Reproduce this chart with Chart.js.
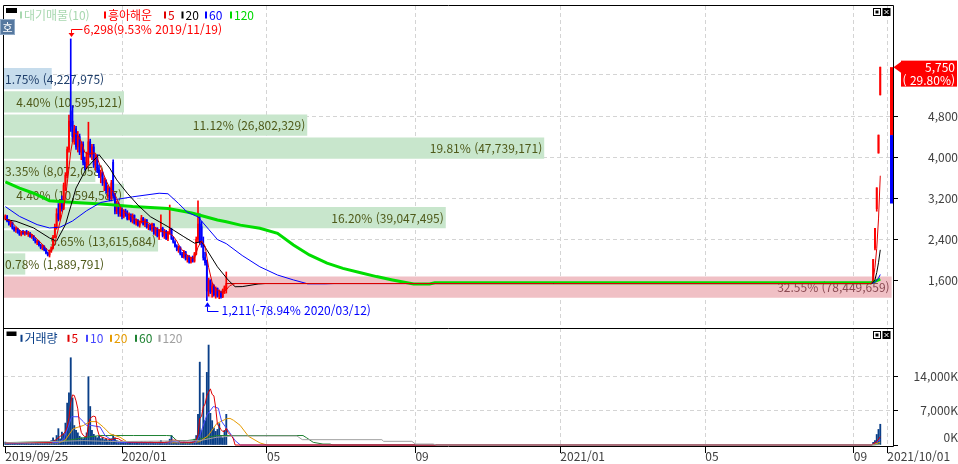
<!DOCTYPE html>
<html lang="ko">
<head>
<meta charset="utf-8">
<title>흥아해운</title>
<script src="https://cdn.jsdelivr.net/npm/chart.js@4.4.1/dist/chart.umd.min.js"></script>
<style>
  html, body { margin: 0; padding: 0; background: #fff; }
  #wrap { position: relative; width: 958px; height: 464px; overflow: hidden; background: #fff; }
  canvas { position: absolute; left: 0; }
  #priceChart { top: 0; }
  #volChart { top: 328px; }
</style>
</head>
<body>
<div id="wrap">
  <canvas id="priceChart" width="958" height="329"></canvas>
  <canvas id="volChart" width="958" height="136"></canvas>
</div>
<script>
// x = trading day index, 0 = 2019/09/25
const xTickIdx = [0, 66, 148, 232, 314, 396, 480, 499];
const xTickLabels = ['2019/09/25', '2020/01', '05', '09', '2021/01', '05', '09', '2021/10/01'];
const priceTicks = [1600, 2400, 3200, 4000, 4800, 5600];
const volTicks = [0, 7000, 14000];

// daily candles up to the trading halt (index 0..125)
const opens = [
  2800, 2850, 2760, 2700, 2730, 2620, 2590, 2610, 2540, 2500,
  2540, 2510, 2550, 2500, 2520, 2460, 2470, 2400, 2350, 2360,
  2290, 2240, 2270, 2200, 2140, 2100, 2180, 2240, 2450, 2650,
  2900, 2800, 3100, 3000, 3450, 3650, 4150, 4900, 4700, 4300,
  4550, 4200, 4400, 4100, 4250, 3900, 3800, 4050, 4300, 4050,
  4200, 3850, 4000, 3750, 3650, 3700, 3500, 3550, 3350, 3400,
  3200, 3900, 3250, 2950, 3100, 2900, 3000, 2850, 2950, 2900,
  2800, 2880, 2760, 2870, 2720, 2780, 2680, 2740, 2820, 2700,
  2780, 2640, 2680, 2600, 2700, 2520, 2620, 2470, 2580, 2620,
  2480, 2560, 2420, 2540, 2600, 2420, 2350, 2270, 2200, 2250,
  2120, 2070, 2160, 2020, 2080, 1960, 2040, 1980, 2120, 2400,
  2700, 2650, 2300, 2050, 1980, 1400, 1600, 1380, 1500, 1330,
  1450, 1300, 1380, 1290, 1420, 1420
];
const highs = [
  2880, 2870, 2790, 2760, 2740, 2650, 2640, 2620, 2580, 2560,
  2580, 2560, 2580, 2560, 2540, 2500, 2480, 2420, 2390, 2370,
  2310, 2300, 2280, 2230, 2160, 2200, 2260, 2480, 2700, 3000,
  3100, 3150, 3250, 3500, 3700, 4200, 4820, 6298, 5000, 4620,
  4600, 4500, 4450, 4300, 4300, 4000, 4100, 4680, 4350, 4250,
  4250, 4050, 4050, 3850, 3750, 3720, 3600, 3560, 3450, 3420,
  3550, 3950, 3300, 3150, 3130, 3050, 3020, 2980, 2990, 2960,
  2920, 2900, 2900, 2880, 2800, 2790, 2760, 2870, 2830, 2800,
  2790, 2700, 2690, 2720, 2710, 2640, 2630, 2600, 2880, 2640,
  2600, 2580, 2560, 3070, 2620, 2450, 2380, 2300, 2280, 2260,
  2150, 2190, 2170, 2100, 2090, 2060, 2080, 2150, 2450, 3150,
  2900, 2750, 2450, 2150, 2000, 1650, 1620, 1560, 1520, 1480,
  1460, 1420, 1400, 1440, 1500, 1770
];
const lows = [
  2780, 2740, 2680, 2650, 2600, 2560, 2540, 2520, 2480, 2470,
  2500, 2480, 2500, 2460, 2440, 2420, 2380, 2330, 2300, 2270,
  2220, 2200, 2180, 2120, 2080, 2060, 2150, 2220, 2430, 2600,
  2760, 2780, 2950, 2980, 3350, 3600, 4100, 4500, 4300, 4250,
  4150, 4100, 4050, 3950, 3850, 3750, 3780, 3850, 4000, 3950,
  3800, 3750, 3700, 3600, 3500, 3450, 3350, 3300, 3200, 3150,
  3150, 3200, 2900, 2900, 2850, 2850, 2800, 2820, 2850, 2780,
  2780, 2740, 2720, 2700, 2680, 2660, 2640, 2720, 2680, 2650,
  2620, 2590, 2580, 2560, 2500, 2480, 2450, 2400, 2550, 2450,
  2420, 2400, 2380, 2500, 2400, 2330, 2250, 2180, 2150, 2100,
  2050, 2040, 2000, 1960, 1940, 1940, 1960, 1960, 2100, 2350,
  2300, 2250, 2000, 1900, 1211, 1300, 1350, 1280, 1300, 1260,
  1280, 1250, 1260, 1270, 1350, 1360
];
const closes = [
  2860, 2760, 2700, 2740, 2620, 2580, 2620, 2540, 2500, 2540,
  2520, 2550, 2510, 2530, 2460, 2480, 2400, 2350, 2370, 2290,
  2240, 2280, 2200, 2140, 2100, 2180, 2240, 2450, 2650, 2900,
  2800, 3100, 3000, 3450, 3650, 4150, 4700, 4600, 4400, 4550,
  4200, 4400, 4100, 4250, 3900, 3800, 4050, 4300, 4050, 4200,
  3850, 4000, 3750, 3650, 3700, 3500, 3550, 3350, 3400, 3200,
  3500, 3250, 2950, 3100, 2900, 3000, 2850, 2950, 2900, 2800,
  2880, 2760, 2870, 2720, 2780, 2680, 2740, 2820, 2700, 2780,
  2640, 2680, 2600, 2700, 2520, 2620, 2470, 2580, 2620, 2480,
  2560, 2420, 2540, 2600, 2420, 2350, 2270, 2200, 2250, 2120,
  2070, 2160, 2020, 2080, 1960, 2040, 1980, 2120, 2400, 2700,
  2350, 2300, 2050, 1950, 1400, 1600, 1380, 1500, 1330, 1450,
  1300, 1380, 1290, 1420, 1480, 1545
];
// volume in thousands of shares
const volumes = [
  600, 500, 450, 400, 500, 350, 400, 300, 450, 350,
  400, 300, 350, 300, 250, 350, 300, 400, 350, 300,
  450, 350, 400, 500, 600, 700, 900, 1500, 1000, 1950,
  3360, 1260, 2650, 2300, 4500, 8600, 10700, 17900, 9650, 4000,
  3000, 2500, 1800, 1500, 1300, 1500, 2500, 14000, 7900, 3000,
  2200, 1800, 1500, 1800, 1300, 1500, 1100, 1200, 900, 1000,
  1300, 2100, 1500, 900, 800, 700, 600, 700, 650, 500,
  600, 550, 700, 500, 600, 450, 550, 700, 500, 600,
  450, 500, 650, 600, 500, 550, 450, 600, 900, 500,
  450, 600, 500, 1200, 1950, 700, 600, 500, 650, 500,
  450, 600, 500, 550, 450, 600, 700, 1200, 1950, 6300,
  17000, 3000, 10700, 5000, 14900, 20500, 6500, 5000, 3500, 2800,
  3200, 4400, 2000, 1500, 3000, 6300
];

// halted: flat price between these two days
const haltDays = [125, 490];
const haltPrice = 1545;

// after trading resumed (2021/09)
const resumeIdx = [491, 492, 493, 494, 495];
const resumeOpen = [1570, 2230, 3000, 4080, 5210];
const resumeHigh = [2015, 2620, 3405, 4430, 5750];
const resumeLow = [1545, 2200, 2950, 4080, 5210];
const resumeClose = [2015, 2620, 3405, 4430, 5750];
const resumeVol = [550, 900, 2160, 3200, 4260];

const peakDate = '2019/11/19';
const troughDate = '2020/03/12';
const limitUp = 5750, limitDown = 3100;

// price moving averages [day, price]
const ma5 = [[0,2800],[3,2760],[6,2650],[9,2560],[12,2525],[15,2505],[18,2410],[21,2305],[24,2190],[26,2170],[28,2320],[30,2610],[32,2890],[34,3200],[36,3790],[37,4110],[38,4300],[39,4480],[41,4430],[43,4300],[45,4090],[47,4060],[49,4080],[51,4080],[53,3890],[55,3720],[57,3550],[59,3400],[61,3340],[63,3200],[65,3040],[67,2960],[69,2900],[71,2860],[73,2805],[75,2760],[77,2750],[79,2745],[81,2725],[83,2680],[85,2625],[87,2580],[89,2555],[91,2530],[93,2520],[95,2465],[97,2370],[99,2240],[101,2160],[103,2090],[105,2050],[107,2035],[109,2250],[111,2375],[113,2270],[115,1860],[117,1565],[119,1450],[121,1390],[123,1370],[125,1425],[127,1505],[129,1530],[130,1545],[490,1545],[491,1640],[492,1860],[493,2230],[494,2800],[495,3640]];
const ma20 = [[0,2790],[6,2755],[16,2625],[25,2430],[29,2370],[34,2690],[40,3400],[46,3790],[53,4050],[59,3790],[63,3560],[69,3300],[75,3070],[82,2845],[92,2650],[101,2455],[107,2330],[111,2360],[114,2200],[120,1870],[126,1615],[130,1483],[134,1485],[143,1536],[147,1545],[490,1545],[491,1570],[492,1620],[493,1760],[494,1950],[495,2200]];
const ma60 = [[0,3040],[8,2850],[18,2690],[25,2625],[31,2640],[38,2760],[46,2960],[54,3120],[63,3180],[72,3230],[87,3300],[92,3290],[98,3100],[103,2930],[109,2840],[115,2600],[120,2400],[125,2320],[134,2090],[144,1870],[154,1710],[163,1615],[171,1540],[181,1540],[186,1545],[490,1545],[492,1570],[494,1650],[495,1720]];
const ma120 = [[0,3520],[8,3400],[16,3300],[25,3155],[35,3130],[54,3090],[72,3040],[92,3005],[102,2940],[106,2910],[120,2780],[125,2745],[133,2680],[144,2620],[154,2520],[163,2295],[172,2100],[182,1940],[191,1840],[201,1755],[210,1680],[219,1615],[231,1536],[240,1536],[243,1560],[490,1560],[495,1630]];

// volume moving averages [day, thousands]
const vma5 = [[0,420],[26,550],[28,900],[30,1500],[32,2050],[33,2300],[34,2810],[35,3860],[36,5650],[37,8790],[38,10270],[39,10170],[40,9050],[41,7410],[42,4190],[43,2560],[44,2020],[45,1720],[46,1720],[47,4160],[48,5440],[49,5780],[50,5920],[51,5780],[52,3280],[53,2060],[54,1720],[56,1450],[58,1200],[60,1100],[62,1400],[64,1300],[66,800],[70,600],[90,550],[93,700],[94,1000],[96,1000],[98,900],[99,600],[106,550],[107,690],[108,980],[109,2160],[110,5430],[111,5890],[112,7790],[113,8400],[114,10120],[115,10820],[116,11520],[117,10380],[118,10080],[119,7660],[120,4200],[121,3780],[122,3180],[123,2780],[124,2820],[125,3440],[126,2560],[127,2160],[128,1860],[129,1260],[130,0],[490,0],[493,700],[495,1700]];
const vma10 = [[0,350],[30,500],[33,1200],[35.6,3700],[37.5,5800],[41.3,5800],[44.1,4800],[46,4000],[48.9,4000],[53.6,3700],[56.4,1950],[59.2,1260],[63,600],[70,500],[92,450],[95,700],[100,550],[108,600],[110,1950],[114,6150],[117.7,7900],[120.5,7550],[122.4,4800],[127,2500],[130,900],[133,0],[490,0],[495,1100]];
const vma20 = [[0,400],[30,450],[33.7,900],[38.4,3360],[44.1,4000],[47.9,4800],[51.7,4800],[55.4,3700],[59.2,2300],[62,1950],[64.9,1600],[68.7,700],[75,500],[105,450],[110,700],[114.8,1950],[119.6,4400],[125.2,5400],[127.1,5460],[129,5100],[132.8,4050],[137.5,1800],[144.1,420],[148,0],[490,0],[495,550]];
const vma60 = [[0,500],[30.9,700],[40.4,1260],[46,1600],[53.6,1950],[72.4,1950],[91.3,1950],[94.1,1900],[97,900],[102.6,900],[110.1,1260],[119.6,1950],[168.4,1950],[170.5,1470],[174.2,550],[179.7,200],[183.7,200],[185.4,0],[490,0],[495,180]];
const vma120 = [[0,450],[44,900],[63,700],[110,900],[119.6,1600],[129,1850],[165,1850],[168,1100],[213,1100],[214,760],[230,760],[232,200],[242,200],[244,0],[490,0],[495,90]];

// 대기매물 bands, bottom to top
const bandMid = [1475, 1925, 2375, 2825, 3275, 3725, 4175, 4625, 5075, 5525];
const bandHalf = 225;
const bandPct = [32.55, 0.78, 5.65, 16.20, 4.40, 3.35, 19.81, 11.12, 4.40, 1.75];
const bandVol = [78449659, 1889791, 13615684, 39047495, 10594587, 8072058, 47739171, 26802329, 10595121, 4227975];

// ---------- look ----------
const X_MIN = -0.76, X_MAX = 502.2;
const UP = '#ff0000', DOWN = '#0000ff';
const GRID = '#d4d4d4';
const FAMILY = '"Noto Sans CJK KR", "DejaVu Sans", sans-serif';
const TICK_FONT = { family: FAMILY, size: 12 };
const LABEL_FONT = '12px ' + FAMILY;
const LEGEND_FONT = '12px ' + FAMILY;

const fmt = v => Math.round(v).toLocaleString('en-US');
const pts = arr => arr.map(([x, y]) => ({ x, y }));

const allIdx = opens.map((_, i) => i).concat(resumeIdx);
const allOpen = opens.concat(resumeOpen);
const allHigh = highs.concat(resumeHigh);
const allLow = lows.concat(resumeLow);
const allClose = closes.concat(resumeClose);
const allVol = volumes.concat(resumeVol);
const candleColor = allClose.map((c, k) => (c >= allOpen[k] ? UP : DOWN));

const lastClose = allClose[allClose.length - 1];
const prevClose = allClose[allClose.length - 2];

const maxBand = bandPct.indexOf(Math.max(...bandPct));
const bandFill = bandMid.map((m, k) => {
  if (k === maxBand) return '#f0c0c5';
  if (lastClose > m - bandHalf && lastClose <= m + bandHalf) return '#c6dcec';
  return '#c8e6cc';
});
const bandInk = bandFill.map(c => (c === '#f0c0c5' ? '#8a4a52' : c === '#c6dcec' ? '#1f3f6b' : '#4f5a1a'));

function farPad(labels) {
  const c = document.createElement('canvas').getContext('2d');
  c.font = '12px ' + FAMILY;
  const w = Math.max(...labels.map(t => c.measureText(t).width));
  return 58 - w;
}

// fixed axis sizes, no label overhang padding
function pinSize(prop, size) {
  return s => {
    s[prop] = size;
    s.paddingLeft = s.paddingRight = s.paddingTop = s.paddingBottom = 0;
  };
}

function dayAxis(withLabels) {
  return {
    type: 'linear', position: 'bottom', min: X_MIN, max: X_MAX, offset: false,
    afterBuildTicks: s => { s.ticks = xTickIdx.map(v => ({ value: v })); },
    afterFit: pinSize('height', withLabels ? 18 : 0),
    grid: {
      offset: false,
      color: c => (c.index === 0 ? 'rgba(0,0,0,0)' : GRID),
      drawTicks: withLabels, tickLength: 7, tickColor: '#000', tickWidth: 1, tickBorderDash: []
    },
    border: { display: false, dash: [4, 3] },
    ticks: {
      display: withLabels, autoSkip: false, maxRotation: 0, minRotation: 0,
      align: 'start', padding: -4, color: '#404040', font: TICK_FONT,
      callback: (v, i) => xTickLabels[i]
    }
  };
}

function line(data, color, width, order) {
  return { type: 'line', data: pts(data), borderColor: color, borderWidth: width, pointRadius: 0,
           tension: 0, fill: false, order, xAxisID: 'x', yAxisID: 'y' };
}

function legend(ctx, items, y) {
  ctx.font = LEGEND_FONT;
  ctx.textAlign = 'left';
  ctx.textBaseline = 'middle';
  items.forEach(([x, color, text]) => {
    ctx.fillStyle = color;
    ctx.fillRect(x, y - 3.5, 2, 7);
    ctx.fillText(text, x + 4, y + 0.5);
  });
}

function icons(ctx, y) {
  ctx.fillStyle = '#fff';
  ctx.fillRect(873.5, y, 7, 7);
  ctx.strokeStyle = '#000';
  ctx.lineWidth = 1;
  ctx.strokeRect(873.5, y, 7, 7);
  ctx.fillStyle = '#000';
  ctx.fillRect(875.5, y + 2, 3, 3);
  ctx.fillRect(882.5, y - 0.5, 8, 8);
  ctx.strokeStyle = '#fff';
  ctx.beginPath();
  ctx.moveTo(884.5, y + 1.5); ctx.lineTo(888.5, y + 5.5);
  ctx.moveTo(888.5, y + 1.5); ctx.lineTo(884.5, y + 5.5);
  ctx.stroke();
}

// ---------- price panel ----------
const priceDecor = {
  id: 'priceDecor',
  afterDatasetDraw(chart, args) {
    if (args.index !== 0) return;
    const ctx = chart.ctx;
    ctx.save();
    ctx.font = LABEL_FONT;
    ctx.textBaseline = 'middle';
    args.meta.data.forEach((bar, k) => {
      const txt = bandPct[k].toFixed(2) + '% (' + fmt(bandVol[k]) + ')';
      const w = ctx.measureText(txt).width;
      ctx.fillStyle = bandInk[k];
      if (w + 4 <= bar.x - bar.base) {
        ctx.textAlign = 'right';
        ctx.fillText(txt, bar.x - 2, bar.y + 0.5);
      } else {
        ctx.textAlign = 'left';
        ctx.fillText(txt, bar.base + 1, bar.y + 0.5);
      }
    });
    ctx.restore();
  },
  afterDraw(chart) {
    const { ctx, chartArea: a } = chart;
    const xs = chart.scales.x, ys = chart.scales.y;
    ctx.save();

    ctx.strokeStyle = '#000';
    ctx.lineWidth = 1;
    ctx.beginPath();
    ctx.moveTo(a.left - 0.5, a.bottom + 1);
    ctx.lineTo(a.left - 0.5, a.top - 0.5);
    ctx.lineTo(a.right + 0.5, a.top - 0.5);
    ctx.lineTo(a.right + 0.5, a.bottom + 1);
    ctx.stroke();

    // price limit gauge at the right edge
    const yUp = ys.getPixelForValue(limitUp);
    const yPrev = ys.getPixelForValue(prevClose);
    const yDn = ys.getPixelForValue(limitDown);
    ctx.fillStyle = UP;
    ctx.fillRect(a.right - 3, yUp, 3, yPrev - yUp);
    ctx.fillStyle = DOWN;
    ctx.fillRect(a.right - 3, yPrev, 3, yDn - yPrev);

    // current price tag
    const yc = ys.getPixelForValue(lastClose);
    ctx.fillStyle = '#ff0000';
    ctx.beginPath();
    ctx.moveTo(a.right + 0.5, yc);
    ctx.lineTo(a.right + 8, yc - 5.5);
    ctx.lineTo(a.right + 8, yc + 5.5);
    ctx.closePath();
    ctx.fill();
    ctx.fillRect(a.right + 8, yc - 6.5, 56, 26);
    ctx.fillStyle = '#fff';
    ctx.font = '12px ' + FAMILY;
    ctx.textAlign = 'right';
    ctx.textBaseline = 'middle';
    const chg = (lastClose / prevClose - 1) * 100;
    ctx.fillText(fmt(lastClose), 955, yc);
    ctx.fillText('( ' + chg.toFixed(2) + '%)', 955, yc + 13);

    // period high / low markers
    ctx.font = LABEL_FONT;
    ctx.textAlign = 'left';
    const hk = allHigh.indexOf(Math.max(...allHigh));
    const hx = Math.round(xs.getPixelForValue(allIdx[hk])) + 0.5;
    const hy = ys.getPixelForValue(allHigh[hk]);
    ctx.strokeStyle = ctx.fillStyle = '#ff0000';
    ctx.beginPath();
    ctx.moveTo(hx - 3, hy - 6); ctx.lineTo(hx + 3, hy - 6); ctx.lineTo(hx, hy - 2);
    ctx.closePath(); ctx.fill();
    ctx.beginPath();
    ctx.moveTo(hx, hy - 6); ctx.lineTo(hx, Math.round(hy - 9.5) + 0.5); ctx.lineTo(hx + 11, Math.round(hy - 9.5) + 0.5);
    ctx.stroke();
    const hp = (allHigh[hk] / lastClose - 1) * 100;
    ctx.fillText(fmt(allHigh[hk]) + '(' + hp.toFixed(2) + '% ' + peakDate + ')', hx + 12, hy - 9.5);

    const lk = allLow.indexOf(Math.min(...allLow));
    const lx = Math.round(xs.getPixelForValue(allIdx[lk])) + 0.5;
    const ly = ys.getPixelForValue(allLow[lk]);
    ctx.strokeStyle = ctx.fillStyle = '#0000ff';
    ctx.beginPath();
    ctx.moveTo(lx - 3, ly + 6); ctx.lineTo(lx + 3, ly + 6); ctx.lineTo(lx, ly + 1.5);
    ctx.closePath(); ctx.fill();
    ctx.beginPath();
    ctx.moveTo(lx, ly + 6); ctx.lineTo(lx, Math.round(ly + 10) + 0.5); ctx.lineTo(lx + 11, Math.round(ly + 10) + 0.5);
    ctx.stroke();
    const lp = (allLow[lk] / lastClose - 1) * 100;
    ctx.fillText(fmt(allLow[lk]) + '(' + lp.toFixed(2) + '% ' + troughDate + ')', lx + 14, ly + 9.5);

    // title bar
    ctx.fillStyle = '#000';
    ctx.fillRect(6, 8, 11, 5);
    legend(ctx, [
      [20, '#a8d8b0', '대기매물(10)'],
      [104, '#ff0000', '흥아해운'],
      [164, '#e00000', '5'],
      [181.5, '#000000', '20'],
      [205, '#0000ff', '60'],
      [230, '#00d800', '120']
    ], 15);

    ctx.fillStyle = '#56789f';
    ctx.fillRect(0, 19, 15, 16);
    ctx.strokeStyle = '#8fa9c6';
    ctx.strokeRect(0.5, 19.5, 14, 15);
    ctx.fillStyle = '#fff';
    ctx.font = '11px ' + FAMILY;
    ctx.textAlign = 'center';
    ctx.fillText('호', 7.5, 27.5);

    icons(ctx, 8.5);
    ctx.restore();
  }
};

new Chart(document.getElementById('priceChart'), {
  data: {
    datasets: [
      {
        type: 'bar', indexAxis: 'y', xAxisID: 'xp', yAxisID: 'yb', order: 100,
        data: bandMid.map((m, k) => ({ y: m, x: bandPct[k] })),
        backgroundColor: bandFill, borderWidth: 0, categoryPercentage: 1, barPercentage: 0.92, grouped: false
      },
      {
        type: 'bar', xAxisID: 'x', yAxisID: 'y', order: 60, grouped: false,
        data: allIdx.map((x, k) => ({ x, y: [allLow[k], allHigh[k]] })),
        backgroundColor: c => candleColor[c.dataIndex], borderWidth: 0, barThickness: 1
      },
      {
        type: 'bar', xAxisID: 'x', yAxisID: 'y', order: 59, grouped: false,
        data: allIdx.map((x, k) => ({ x, y: [allOpen[k], allClose[k]] })),
        backgroundColor: c => candleColor[c.dataIndex], borderWidth: 0, barThickness: 1.2, minBarLength: 1
      },
      line(haltDays.map(d => [d, haltPrice]), '#c80000', 1, 58),
      line(ma120, '#00dd00', 3, 40),
      line(ma60, '#0000ff', 1, 30),
      line(ma20, '#000000', 1, 20),
      line(ma5, '#e00000', 1, 10)
    ]
  },
  options: {
    responsive: false, animation: false, devicePixelRatio: 1, events: [],
    layout: { autoPadding: false, padding: { left: 4, top: 6, right: 0, bottom: 1 } },
    plugins: { legend: { display: false }, tooltip: { enabled: false } },
    scales: {
      x: dayAxis(false),
      y: {
        type: 'linear', position: 'right', min: 681, max: 6938, offset: false,
        afterBuildTicks: s => { s.ticks = priceTicks.map(v => ({ value: v })); },
        afterFit: pinSize('width', 65),
        grid: {
          color: GRID, tickLength: 5, tickBorderDash: [], offset: false,
          tickColor: c => (c.tick && c.tick.value === 5600 ? 'rgba(0,0,0,0)' : '#000')
        },
        border: { display: false, dash: [4, 3] },
        ticks: {
          color: '#404040', font: TICK_FONT, crossAlign: 'far',
          padding: farPad(priceTicks.map(fmt)),
          callback: v => (v === 5600 ? '' : fmt(v))
        }
      },
      yb: {
        type: 'linear', display: false, min: 681, max: 6938, offset: false,
        afterBuildTicks: s => { s.ticks = bandMid.map(v => ({ value: v })); }
      },
      xp: { type: 'linear', display: false, min: 0, max: 32.6, offset: false }
    }
  },
  plugins: [priceDecor]
});

// ---------- volume panel ----------
const volDecor = {
  id: 'volDecor',
  afterDraw(chart) {
    const { ctx, chartArea: a } = chart;
    ctx.save();
    ctx.strokeStyle = '#000';
    ctx.lineWidth = 1;
    ctx.beginPath();
    ctx.moveTo(a.left - 0.5, a.top + 0.5);
    ctx.lineTo(a.right + 0.5, a.top + 0.5);
    ctx.moveTo(a.left - 0.5, a.top);
    ctx.lineTo(a.left - 0.5, a.bottom + 0.5);
    ctx.lineTo(a.right + 0.5, a.bottom + 0.5);
    ctx.lineTo(a.right + 0.5, a.top);
    ctx.stroke();

    ctx.fillStyle = '#000';
    ctx.fillRect(6.5, 3.5, 10, 4.5);
    legend(ctx, [
      [20.5, '#0a3f88', '거래량'],
      [67.5, '#e00000', '5'],
      [86, '#4646ff', '10'],
      [110, '#e69b00', '20'],
      [135, '#1e8232', '60'],
      [158.5, '#a0a0a0', '120']
    ], 10.3);
    icons(ctx, 3.5);
    ctx.restore();
  }
};

function vline(data, color, order) {
  return { type: 'line', data: pts(data), borderColor: color, borderWidth: 1, pointRadius: 0,
           tension: 0, fill: false, order, xAxisID: 'x', yAxisID: 'y' };
}

new Chart(document.getElementById('volChart'), {
  data: {
    datasets: [
      {
        type: 'bar', xAxisID: 'x', yAxisID: 'y', order: 50, grouped: false,
        data: allIdx.map((x, k) => ({ x, y: allVol[k] })),
        backgroundColor: '#0a3f88', borderWidth: 0, barThickness: 1.2
      },
      vline(vma60, '#1e8232', 40),
      vline(vma20, '#e69b00', 30),
      vline(vma10, '#4646ff', 20),
      vline(vma5, '#e00000', 10),
      vline(vma120, '#a0a0a0', 5)
    ]
  },
  options: {
    responsive: false, animation: false, devicePixelRatio: 1, events: [],
    layout: { autoPadding: false, padding: { left: 4, top: 0, right: 0, bottom: 0 } },
    plugins: { legend: { display: false }, tooltip: { enabled: false } },
    scales: {
      x: dayAxis(true),
      y: {
        type: 'linear', position: 'right', min: -200, max: 24000, offset: false,
        afterBuildTicks: s => { s.ticks = volTicks.map(v => ({ value: v })); },
        afterFit: pinSize('width', 65),
        grid: {
          offset: false,
          color: c => (c.tick && c.tick.value === 0 ? 'rgba(0,0,0,0)' : GRID),
          tickLength: 5, tickColor: '#000', tickBorderDash: []
        },
        border: { display: false, dash: [4, 3] },
        ticks: {
          color: '#404040', font: TICK_FONT, crossAlign: 'far',
          padding: farPad(['14,000K']),
          callback: v => (v === 0 ? ['0K', ''] : fmt(v) + 'K')
        }
      }
    }
  },
  plugins: [volDecor]
});
</script>
</body>
</html>
